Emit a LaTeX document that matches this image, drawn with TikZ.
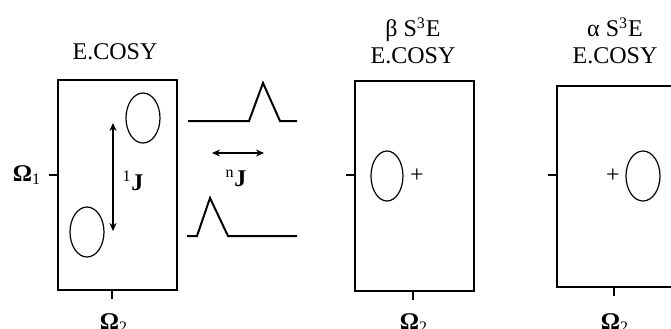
\documentclass[tikz,border=0pt]{standalone}
\usepackage{fontspec}
\setmainfont{Liberation Serif}
\usetikzlibrary{arrows.meta}
\begin{document}
\begin{tikzpicture}[x=0.5pt, y=-0.5pt,
    every node/.style={font=\fontsize{12}{13.5}\selectfont, inner sep=0pt},
    panel/.style={draw, line width=1pt, minimum width=59.5pt},
    tick/.style={line width=1pt},
    spot/.style={line width=0.6pt},
    trace/.style={line width=1pt, line join=miter},
    coupling/.style={line width=0.9pt, {Stealth[length=4pt,width=3.5pt]}-{Stealth[length=4pt,width=3.5pt]}}]
    \useasboundingbox (0,0) rectangle (671,328);
    \clip (0,0) rectangle (671,328);
    % panels
    \node[panel, minimum height=105pt] (box1) at (117.5,185) {};
    \node[panel, minimum height=105pt] (box2) at (414.5,186) {};
    \node[panel, minimum height=100.5pt] (box3) at (616.5,186.5) {};
    \node (title1) at (115,52) {E.COSY};
    \node[align=center] (title2) at (413,41) {β S\textsuperscript{3}E\\E.COSY};
    \node[align=center] (title3) at (615,41) {α S\textsuperscript{3}E\\E.COSY};
    % axis ticks
    \draw[tick] (box1.west |- 0,175) -- ++(-8,0);
    \draw[tick] (box2.west |- 0,175) -- ++(-8,0);
    \draw[tick] (box3.west |- 0,175) -- ++(-8,0);
    \draw[tick] (112,0 |- box1.south) -- ++(0,8);
    \draw[tick] (413,0 |- box2.south) -- ++(0,8);
    \draw[tick] (614,0 |- box3.south) -- ++(0,8);
    \node (om1) at (27,175) {\textbf{Ω}\textsubscript{1}};
    \node (om2a) at (114,323) {\textbf{Ω}\textsubscript{2}};
    \node (om2b) at (414,323) {\textbf{Ω}\textsubscript{2}};
    \node (om2c) at (615,323) {\textbf{Ω}\textsubscript{2}};
    % cross peaks
    \draw[spot] (143,118) ellipse (8.5pt and 12.5pt);
    \draw[spot] (87,232) ellipse (8.5pt and 12.5pt);
    \draw[spot] (387,176) ellipse (8pt and 12.5pt);
    \draw[spot] (643,176) ellipse (8.5pt and 12.5pt);
    \node (plus2) at (417,176) {+};
    \node (plus3) at (613,176) {+};
    % couplings
    \coordinate (j1top) at (113,123);
    \coordinate (j1bot) at (113,231);
    \draw[coupling] (j1top) -- (j1bot);
    \node (j1) at (133,181) {\textsuperscript{1}\textbf{J}};
    \coordinate (jnl) at (212,153);
    \coordinate (jnr) at (264,153);
    \draw[coupling] (jnl) -- (jnr);
    \node (jn) at (236,178) {\textsuperscript{n}\textbf{J}};
    % traces
    \draw[trace] (188,121) -- (249,121) -- (263,83) -- (280,121) -- (297,121);
    \draw[trace] (187,236) -- (197,236) -- (210,198) -- (228,236) -- (297,236);
\end{tikzpicture}
\end{document}
